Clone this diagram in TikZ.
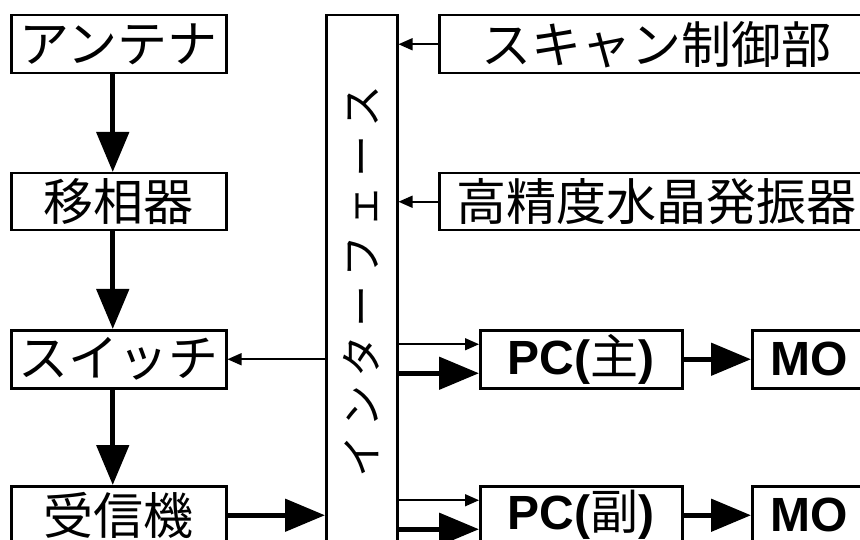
\documentclass[tikz,border=0pt]{standalone}
\usepackage{fontspec}
\usepackage{graphicx}
\setmainfont{Noto Sans CJK JP}
\newfontfamily\jp{Noto Sans CJK JP}
\newfontfamily\pcf{Liberation Sans}
\usetikzlibrary{arrows.meta,calc}
\begin{document}
\begin{tikzpicture}[x=1pt,y=-1pt,
  box/.style={draw,line width=2.5pt,inner sep=0pt,anchor=north west,font=\fontsize{50pt}{52pt}\selectfont},
  pcbox/.style={box,font=\pcf\bfseries\fontsize{48pt}{50pt}\selectfont},
  big/.style={line width=5pt,-{Triangle[length=40pt,width=32pt]}},
  small/.style={line width=1.6pt,-{Triangle[length=14pt,width=12pt]}}]
\useasboundingbox (0,0) rectangle (860,540);
\clip (0,0) rectangle (860,540);
% left column
\node[box,minimum width=215pt,minimum height=58pt] (ant) at (10,14) {アンテナ};
\node[box,minimum width=215pt,minimum height=57pt] (phase) at (10,172) {移相器};
\node[box,minimum width=215pt,minimum height=58pt] (sw) at (10,329) {スイッチ};
\node[box,minimum width=215pt,minimum height=58pt] (rx) at (10,485) {受信機};
% interface
\node[box,minimum width=71pt,minimum height=532pt,font=\fontsize{42pt}{44pt}\selectfont] (intf) at (325,14)
  {\rotatebox{90}{\makebox[392pt][s]{イ ン タ ー フ ェ ー ス}}};
% right column
\node[box,minimum width=434pt,minimum height=58pt] (scan) at (438,14) {スキャン制御部};
\node[box,minimum width=434pt,minimum height=57pt] (osc) at (438,172) {高精度水晶発振器};
\node[pcbox,minimum width=202pt,minimum height=58pt] (pc1) at (479,329) {PC({\jp\mdseries 主})};
\node[pcbox,minimum width=113pt,minimum height=58pt] (mo1) at (751,329) {MO};
\node[pcbox,minimum width=202pt,minimum height=58pt] (pc2) at (479,485) {PC({\jp\mdseries 副})};
\node[pcbox,minimum width=113pt,minimum height=58pt] (mo2) at (751,485) {MO};
% connectors
\draw[big] ([xshift=-6pt]ant.south) -- ([xshift=-6pt]phase.north);
\draw[big] ([xshift=-6pt]phase.south) -- ([xshift=-6pt]sw.north);
\draw[big] ([xshift=-6pt]sw.south) -- ([xshift=-6pt]rx.north);
\draw[big] (rx.east) -- (rx.east -| intf.west);
\draw[small] (sw.east -| intf.west) -- (sw.east);
\draw[small] (scan.west) -- (scan.west -| intf.east);
\draw[small] (osc.west) -- (osc.west -| intf.east);
\coordinate (p1a) at ($(pc1.west)+(0,-15)$);
\coordinate (p1b) at ($(pc1.west)+(0,14)$);
\coordinate (p2a) at ($(pc2.west)+(0,-15)$);
\coordinate (p2b) at ($(pc2.west)+(0,14)$);
\draw[small] (p1a -| intf.east) -- (p1a);
\draw[big] (p1b -| intf.east) -- (p1b);
\draw[small] (p2a -| intf.east) -- (p2a);
\draw[big] (p2b -| intf.east) -- (p2b);
\draw[big] (pc1) -- (mo1);
\draw[big] (pc2) -- (mo2);
\end{tikzpicture}
\end{document}
